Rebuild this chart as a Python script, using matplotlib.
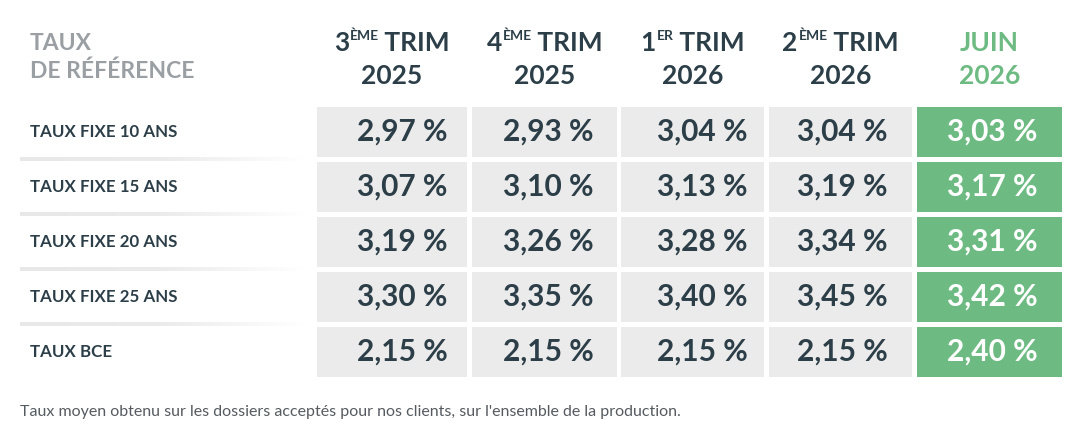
import matplotlib
matplotlib.use("Agg")
import matplotlib.pyplot as plt
import numpy as np

# data
row_labels = ["TAUX FIXE 10 ANS", "TAUX FIXE 15 ANS", "TAUX FIXE 20 ANS",
              "TAUX FIXE 25 ANS", "TAUX BCE"]
col_main = ["3", "4", "1", "2", "JUIN"]
col_sup = ["ÈME", "ÈME", "ER", "ÈME", ""]
col_year = ["2025", "2025", "2026", "2026", "2026"]
rates = [
    [2.97, 2.93, 3.04, 3.04, 3.03],
    [3.07, 3.10, 3.13, 3.19, 3.17],
    [3.19, 3.26, 3.28, 3.34, 3.31],
    [3.30, 3.35, 3.40, 3.45, 3.42],
    [2.15, 2.15, 2.15, 2.15, 2.40],
]
corner_title = ["TAUX", "DE RÉFÉRENCE"]
footnote = "Taux moyen obtenu sur les dossiers acceptés pour nos clients, sur l'ensemble de la production."

# layout (pixels)
W, H = 1092, 436
col_left = [317, 472, 621, 769, 917]
col_width = [150, 145, 143, 143, 145]
val_x = [402, 548, 702, 842, 992]
row_top = [107, 162, 217, 272, 327]
row_h = 50

DARK = "#2c3e48"
GREY_TXT = "#9a9fa4"
GREEN = "#6dbb83"
CELL = "#ebebeb"
FONT = "Lato"
HEAD_FS = 19

fig = plt.figure(figsize=(W / 100, H / 100), dpi=100)
ax = fig.add_axes([0, 0, 1, 1])
ax.set_xlim(0, W)
ax.set_ylim(H, 0)
ax.axis("off")

# corner title
ax.text(30, 44, corner_title[0], color=GREY_TXT, fontsize=16.5, fontweight="bold",
        family=FONT, va="center", ha="left")
ax.text(30, 71, corner_title[1], color=GREY_TXT, fontsize=16.5, fontweight="bold",
        family=FONT, va="center", ha="left")

fig.canvas.draw()
renderer = fig.canvas.get_renderer()


def width_px(t):
    return t.get_window_extent(renderer=renderer).width


# column headers
for j in range(len(col_main)):
    cx = col_left[j] + col_width[j] / 2
    color = GREEN if j == len(col_main) - 1 else DARK
    if col_sup[j]:
        p1 = ax.text(0, 43, col_main[j], color=color, fontsize=HEAD_FS, fontweight="bold",
                     family=FONT, va="center", ha="left")
        p2 = ax.text(0, 36, col_sup[j], color=color, fontsize=10, fontweight="bold",
                     family=FONT, va="center", ha="left")
        p3 = ax.text(0, 43, " TRIM", color=color, fontsize=HEAD_FS, fontweight="bold",
                     family=FONT, va="center", ha="left")
        w1, w2, w3 = width_px(p1), width_px(p2), width_px(p3)
        x0 = cx - (w1 + w2 + w3) / 2
        p1.set_x(x0)
        p2.set_x(x0 + w1 + 1)
        p3.set_x(x0 + w1 + w2)
    else:
        ax.text(cx, 43, col_main[j], color=color, fontsize=HEAD_FS, fontweight="bold",
                family=FONT, va="center", ha="center")
    ax.text(cx, 76, col_year[j], color=color, fontsize=HEAD_FS, fontweight="bold",
            family=FONT, va="center", ha="center")

# separators with fading gradient
grad = np.linspace(0, 1, 256).reshape(1, -1)
sep_cmap = matplotlib.colors.LinearSegmentedColormap.from_list(
    "sep", ["#e8e8e8", "#ebebeb", "#ffffff"])
for i in range(len(row_labels) - 1):
    y = row_top[i] + row_h + 2.5
    ax.imshow(grad, cmap=sep_cmap, extent=(20, 305, y + 2, y - 2),
              aspect="auto", interpolation="bilinear", zorder=1)
ax.set_xlim(0, W)
ax.set_ylim(H, 0)

# rows
for i, lab in enumerate(row_labels):
    cy = row_top[i] + row_h / 2
    ax.text(30, cy, lab, color=DARK, fontsize=12.2, fontweight="bold",
            family=FONT, va="center", ha="left")
    for j, v in enumerate(rates[i]):
        last = j == len(rates[i]) - 1
        ax.add_patch(plt.Rectangle((col_left[j], row_top[i]), col_width[j], row_h,
                                   facecolor=GREEN if last else CELL, edgecolor="none",
                                   zorder=2))
        s = f"{v:.2f}".replace(".", ",") + " %"
        ax.text(val_x[j], cy, s,
                color="white" if last else DARK, fontsize=21.5, fontweight="bold",
                family=FONT, va="center", ha="center", zorder=3)

ax.text(20, 412, footnote, color="#555b60", fontsize=11.5, family=FONT,
        va="center", ha="left")

fig.savefig("out.png", dpi=100, facecolor="white")
